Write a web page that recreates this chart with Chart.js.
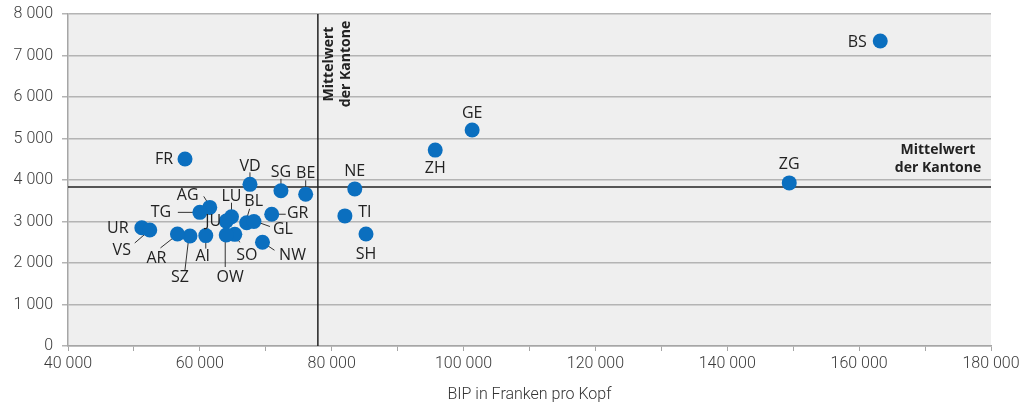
<!DOCTYPE html>
<html lang="de">
<head>
  <meta charset="UTF-8" />
  <title>BIP pro Kopf nach Kanton</title>
  <script src="https://cdn.jsdelivr.net/npm/chart.js"></script>
  <style>
    html, body { margin: 0; background: #fff; }
    #wrap { width: 1027px; height: 409px; position: relative; }
  </style>
</head>
<body>
  <div id="wrap"><canvas id="chart"></canvas></div>
  <script>
    // Kantone, BIP pro Kopf (x) und Wert pro Kopf (y)
    const cantons = ["BS","ZG","GE","ZH","NE","TI","SH","BE","SG","VD","FR","AG","TG","LU","JU","BL","GL","GR","NW","SO","OW","AI","SZ","AR","UR","VS"];
    const bip     = [163200,149400,101300,95700,83500,82000,85200,76050,72300,67600,57750,61500,60000,64800,64000,67100,68200,70900,69500,65300,64000,60900,58500,56600,51200,52400];
    const values  = [7350,3930,5205,4720,3785,3135,2700,3655,3740,3895,4505,3340,3220,3115,3010,2970,3000,3175,2500,2690,2675,2660,2650,2700,2850,2795];
    const meanBip = 77900;
    const meanValue = 3830;
    const xMin = 40000, xMax = 180000;
    const yMin = 0, yMax = 8000;

    // label placement relative to the point (px), optional leader line
    const labelPos = {
      BS: { dx: -23, dy: 1 },
      ZG: { dx: 0, dy: -18 },
      GE: { dx: 0, dy: -17 },
      ZH: { dx: 0, dy: 18 },
      NE: { dx: 0, dy: -17 },
      TI: { dx: 20, dy: -3 },
      SH: { dx: 0, dy: 20 },
      BE: { dx: 0, dy: -21, lead: [0, -14, 0, -6] },
      SG: { dx: 0, dy: -18, lead: [0, -12, 0, -6] },
      VD: { dx: 0, dy: -18, lead: [0, -12, 0, -6] },
      FR: { dx: -21, dy: 0 },
      AG: { dx: -22, dy: -12, lead: [-6, -11, -1, -3] },
      TG: { dx: -39, dy: 0, lead: [-22, 0, -4, 0] },
      LU: { dx: 0, dy: -20, lead: [0, -14, 0, -5] },
      JU: { dx: -13, dy: 0 },
      BL: { dx: 7, dy: -21, lead: [3, -14, 0, -4] },
      GL: { dx: 29, dy: 8, lead: [2, 0, 16, 5] },
      GR: { dx: 26, dy: -1, lead: [5, 0, 14, 0] },
      NW: { dx: 30, dy: 13, lead: [0, 0, 12, 8] },
      SO: { dx: 12, dy: 21, lead: [0, 0, 5, 8] },
      OW: { dx: 4, dy: 42, lead: [-1, 0, -1, 32] },
      AI: { dx: -3, dy: 21, lead: [0, 5, 0, 13] },
      SZ: { dx: -10, dy: 41, lead: [-1, 0, -5, 34] },
      AR: { dx: -21, dy: 24, lead: [-3, 3, -17, 14] },
      UR: { dx: -24, dy: 1 },
      VS: { dx: -28, dy: 20, lead: [0, 0, -15, 13] }
    };

    const fmt = v => String(v).replace(/\B(?=(\d{3})+(?!\d))/g, " ");

    const plotBg = {
      id: "plotBg",
      beforeDraw(chart) {
        const { ctx, chartArea: a } = chart;
        ctx.save();
        ctx.fillStyle = "#efefef";
        ctx.fillRect(a.left, a.top, a.right - a.left, a.bottom - a.top);
        ctx.restore();
      }
    };

    const pointLabels = {
      id: "pointLabels",
      beforeDatasetsDraw(chart) {
        const ctx = chart.ctx;
        const meta = chart.getDatasetMeta(0);
        ctx.save();
        ctx.strokeStyle = "#333";
        ctx.lineWidth = 1;
        meta.data.forEach((pt, i) => {
          const p = labelPos[cantons[i]];
          if (p && p.lead) {
            ctx.beginPath();
            ctx.moveTo(pt.x + p.lead[0], pt.y + p.lead[1]);
            ctx.lineTo(pt.x + p.lead[2], pt.y + p.lead[3]);
            ctx.stroke();
          }
        });
        ctx.restore();
      },
      afterDatasetsDraw(chart) {
        const { ctx, chartArea: a, scales } = chart;
        const meta = chart.getDatasetMeta(0);
        ctx.save();
        ctx.fillStyle = "#222";
        ctx.font = "16px 'Open Sans', sans-serif";
        ctx.textAlign = "center";
        ctx.textBaseline = "middle";
        meta.data.forEach((pt, i) => {
          const p = labelPos[cantons[i]] || { dx: 0, dy: -16 };
          ctx.fillText(cantons[i], pt.x + p.dx, pt.y + p.dy);
        });

        // Mittelwert-Beschriftungen
        ctx.font = "bold 14px 'Open Sans', sans-serif";
        const vx = scales.x.getPixelForValue(meanBip);
        ctx.save();
        ctx.translate(vx, a.top + 50);
        ctx.rotate(-Math.PI / 2);
        ctx.fillText("Mittelwert", 0, 11);
        ctx.fillText("der Kantone", 0, 28);
        ctx.restore();

        const hy = scales.y.getPixelForValue(meanValue);
        ctx.fillText("Mittelwert", a.right - 53, hy - 37);
        ctx.fillText("der Kantone", a.right - 53, hy - 19);
        ctx.restore();
      }
    };

    new Chart(document.getElementById("chart"), {
      type: "scatter",
      data: {
        datasets: [
          {
            label: "Kantone",
            data: bip.map((x, i) => ({ x: x, y: values[i] })),
            backgroundColor: "#0b6fbf",
            borderWidth: 0,
            pointRadius: 7.5,
            pointHoverRadius: 7.5,
            order: 0
          },
          {
            type: "line",
            label: "Mittelwert y",
            data: [{ x: xMin, y: meanValue }, { x: xMax, y: meanValue }],
            borderColor: "#222",
            borderWidth: 1.5,
            pointRadius: 0,
            order: 2
          },
          {
            type: "line",
            label: "Mittelwert x",
            data: [{ x: meanBip, y: yMin }, { x: meanBip, y: yMax }],
            borderColor: "#222",
            borderWidth: 1.5,
            pointRadius: 0,
            order: 2
          }
        ]
      },
      options: {
        responsive: true,
        maintainAspectRatio: false,
        animation: false,
        layout: { padding: { top: 14, right: 36, left: 0, bottom: 0 } },
        plugins: {
          legend: { display: false },
          tooltip: { enabled: false }
        },
        scales: {
          x: {
            type: "linear",
            min: xMin,
            max: xMax,
            afterFit: s => { s.height = 63; s.paddingLeft = 0; s.paddingRight = 0; },
            border: { color: "#a6a6a6", width: 1.5 },
            grid: { drawOnChartArea: false, drawTicks: true, tickLength: 5, color: "#a6a6a6" },
            ticks: {
              stepSize: 10000,
              color: "#3a3a3a",
              font: { family: "Roboto", size: 16, weight: 300 },
              padding: 3,
              maxRotation: 0,
              autoSkip: false,
              callback: v => (v % 20000 === 0 ? fmt(v) : "")
            },
            title: {
              display: true,
              text: "BIP in Franken pro Kopf",
              color: "#333",
              font: { family: "Roboto", size: 16, weight: 300 },
              padding: { top: 12 }
            }
          },
          y: {
            min: yMin,
            max: yMax,
            afterFit: s => { s.width = 68; s.paddingTop = 0; s.paddingBottom = 0; },
            border: { color: "#a6a6a6", width: 1.5 },
            grid: { color: "#b4b4b4", lineWidth: 1.5, tickLength: 6 },
            ticks: {
              stepSize: 1000,
              color: "#3a3a3a",
              font: { family: "Roboto", size: 16, weight: 300 },
              padding: 9,
              callback: v => fmt(v)
            }
          }
        }
      },
      plugins: [plotBg, pointLabels]
    });
  </script>
</body>
</html>
